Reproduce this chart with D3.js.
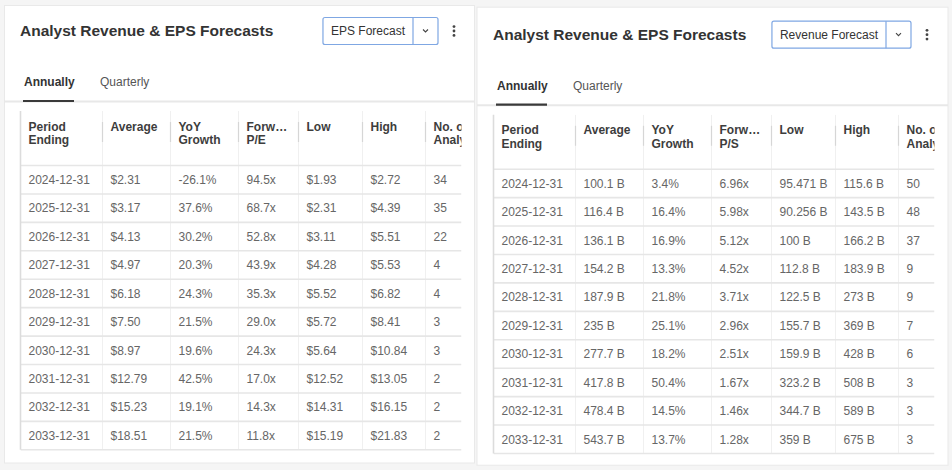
<!DOCTYPE html>
<html>
<head>
<meta charset="utf-8">
<script src="https://cdn.jsdelivr.net/npm/d3@7"></script>
<style>
  html, body { margin: 0; padding: 0; background: #f5f5f5; }
  svg { display: block; font-family: "Liberation Sans", Arial, Helvetica, sans-serif; }
</style>
</head>
<body>
<svg id="chart" width="952" height="470"></svg>
<script>
// ---------- DATA ----------
const periods = ["2024-12-31","2025-12-31","2026-12-31","2027-12-31","2028-12-31","2029-12-31","2030-12-31","2031-12-31","2032-12-31","2033-12-31"];

const epsAverage   = ["$2.31","$3.17","$4.13","$4.97","$6.18","$7.50","$8.97","$12.79","$15.23","$18.51"];
const epsYoY       = ["-26.1%","37.6%","30.2%","20.3%","24.3%","21.5%","19.6%","42.5%","19.1%","21.5%"];
const epsForwardPE = ["94.5x","68.7x","52.8x","43.9x","35.3x","29.0x","24.3x","17.0x","14.3x","11.8x"];
const epsLow       = ["$1.93","$2.31","$3.11","$4.28","$5.52","$5.72","$5.64","$12.52","$14.31","$15.19"];
const epsHigh      = ["$2.72","$4.39","$5.51","$5.53","$6.82","$8.41","$10.84","$13.05","$16.15","$21.83"];
const epsAnalysts  = [34,35,22,4,4,3,3,2,2,2];

const revAverage   = ["100.1 B","116.4 B","136.1 B","154.2 B","187.9 B","235 B","277.7 B","417.8 B","478.4 B","543.7 B"];
const revYoY       = ["3.4%","16.4%","16.9%","13.3%","21.8%","25.1%","18.2%","50.4%","14.5%","13.7%"];
const revForwardPS = ["6.96x","5.98x","5.12x","4.52x","3.71x","2.96x","2.51x","1.67x","1.46x","1.28x"];
const revLow       = ["95.471 B","90.256 B","100 B","112.8 B","122.5 B","155.7 B","159.9 B","323.2 B","344.7 B","359 B"];
const revHigh      = ["115.6 B","143.5 B","166.2 B","183.9 B","273 B","369 B","428 B","508 B","589 B","675 B"];
const revAnalysts  = [50,48,37,9,9,7,6,3,3,3];

const panelTitle = "Analyst Revenue & EPS Forecasts";
const tabLabels = ["Annually","Quarterly"];
const epsHeaders = [["Period","Ending"],["Average"],["YoY","Growth"],["Forw…","P/E"],["Low"],["High"],["No. of","Analysts"]];
const revHeaders = [["Period","Ending"],["Average"],["YoY","Growth"],["Forw…","P/S"],["Low"],["High"],["No. of","Analysts"]];

// ---------- LAYOUT ----------
const colWidths = [82, 68, 68, 60, 64, 63, 36];
const svg = d3.select("#chart");

function drawPanel(idx, cfg) {
  const g = svg.append("g").attr("transform", `translate(${cfg.dx},${cfg.dy})`);

  // card
  g.append("rect").attr("x", cfg.cardX).attr("y", cfg.cardY).attr("width", cfg.cardW).attr("height", cfg.cardH)
    .attr("fill", "#fff").attr("stroke", "#e9e9e9").attr("stroke-width", 1);

  // title
  g.append("text").attr("x", 20).attr("y", 36).text(panelTitle)
    .attr("font-size", 15.5).attr("font-weight", "bold").attr("fill", "#333");

  // button
  const btnRight = 438, chevW = 25, divX = btnRight - chevW;
  const bt = g.append("text").attr("x", divX - 8).attr("y", 35).attr("text-anchor", "end")
    .attr("font-size", 12).attr("fill", "#333").text(cfg.button);
  const tw = bt.node().getComputedTextLength();
  const btnLeft = divX - 8 - tw - 8;
  g.insert("rect", "text:last-of-type").attr("x", btnLeft).attr("y", 17.5).attr("width", btnRight - btnLeft).attr("height", 27)
    .attr("rx", 2).attr("fill", "#fff").attr("stroke", "#7fa7e3").attr("stroke-width", 1.2);
  g.append("line").attr("x1", divX).attr("x2", divX).attr("y1", 17.5).attr("y2", 44.5)
    .attr("stroke", "#7fa7e3").attr("stroke-width", 1.2);
  g.append("path").attr("d", `M${divX + 10},29.5 L${divX + 12.5},32 L${divX + 15},29.5`)
    .attr("fill", "none").attr("stroke", "#444").attr("stroke-width", 1.1);
  bt.raise();

  // kebab
  g.selectAll("circle.dot").data([26.6, 31, 35.4]).join("circle")
    .attr("cx", 454).attr("cy", d => d).attr("r", 1.4).attr("fill", "#444");

  // tabs
  g.append("line").attr("x1", cfg.cardX).attr("x2", cfg.cardX + cfg.cardW).attr("y1", 101.5).attr("y2", 101.5)
    .attr("stroke", "#e8e8e8").attr("stroke-width", 2);
  g.append("text").attr("x", 24).attr("y", 86).text(tabLabels[0])
    .attr("font-size", 12).attr("font-weight", "bold").attr("fill", "#333");
  g.append("text").attr("x", 100).attr("y", 86).text(tabLabels[1])
    .attr("font-size", 12).attr("fill", "#555");
  g.append("line").attr("x1", 23).attr("x2", 74).attr("y1", 101).attr("y2", 101)
    .attr("stroke", "#3a3a3a").attr("stroke-width", 2.2);

  // table
  const tableLeft = 20.5;
  const edges = [tableLeft];
  colWidths.forEach(w => edges.push(edges[edges.length - 1] + w));
  const tableRight = edges[edges.length - 1];
  const headTop = 111, headBottom = 165.5, tableBottom = 449.8;

  const y = d3.scaleBand().domain(periods).range([headBottom, tableBottom]).padding(0);

  const clipId = "clip" + idx;
  g.append("clipPath").attr("id", clipId).append("rect")
    .attr("x", tableLeft).attr("y", headTop).attr("width", tableRight - tableLeft).attr("height", tableBottom - headTop + 2);
  const t = g.append("g").attr("clip-path", `url(#${clipId})`);

  // faint column lines
  t.selectAll("line.col").data(edges.slice(1, -1)).join("line")
    .attr("x1", d => d).attr("x2", d => d).attr("y1", headTop).attr("y2", tableBottom)
    .attr("stroke", "#f0f0f0").attr("stroke-width", 1);
  // header separators
  t.selectAll("line.hsep").data(edges.slice(1, -1)).join("line")
    .attr("x1", d => d).attr("x2", d => d).attr("y1", 122).attr("y2", 142)
    .attr("stroke", "#d6d6d6").attr("stroke-width", 1.2);

  // row lines
  const rowEdges = [headBottom].concat(periods.map(p => y(p) + y.bandwidth()));
  t.selectAll("line.row").data(rowEdges).join("line")
    .attr("x1", tableLeft).attr("x2", tableRight).attr("y1", d => d).attr("y2", d => d)
    .attr("stroke", "#e6e6e6").attr("stroke-width", 1.6);

  // header labels
  cfg.headers.forEach((lines, ci) => {
    const tx = t.append("text").attr("x", edges[ci] + 8).attr("y", 130.5)
      .attr("font-size", 12).attr("font-weight", "bold").attr("fill", "#3d3d3d");
    lines.forEach((l, li) => tx.append("tspan").attr("x", edges[ci] + 8).attr("y", 130.5 + li * 13.5).text(l));
  });

  // cells
  cfg.columns.forEach((col, ci) => {
    t.selectAll(null).data(periods).join("text")
      .attr("x", edges[ci] + 8)
      .attr("y", d => y(d) + y.bandwidth() / 2 + 4.3)
      .attr("font-size", 12).attr("fill", "#666")
      .text((d, i) => col[i]);
  });

  // left table border
  g.append("line").attr("x1", tableLeft).attr("x2", tableLeft).attr("y1", headTop).attr("y2", tableBottom)
    .attr("stroke", "#dcdcdc").attr("stroke-width", 1.6);
}

drawPanel(0, {
  dx: 0, dy: 0, cardX: 4.5, cardY: 5.5, cardW: 470, cardH: 457.5,
  button: "EPS Forecast", headers: epsHeaders,
  columns: [periods, epsAverage, epsYoY, epsForwardPE, epsLow, epsHigh, epsAnalysts]
});
drawPanel(1, {
  dx: 473, dy: 3.7, cardX: 4, cardY: 3.5, cardW: 471, cardH: 458,
  button: "Revenue Forecast", headers: revHeaders,
  columns: [periods, revAverage, revYoY, revForwardPS, revLow, revHigh, revAnalysts]
});
</script>
</body>
</html>
